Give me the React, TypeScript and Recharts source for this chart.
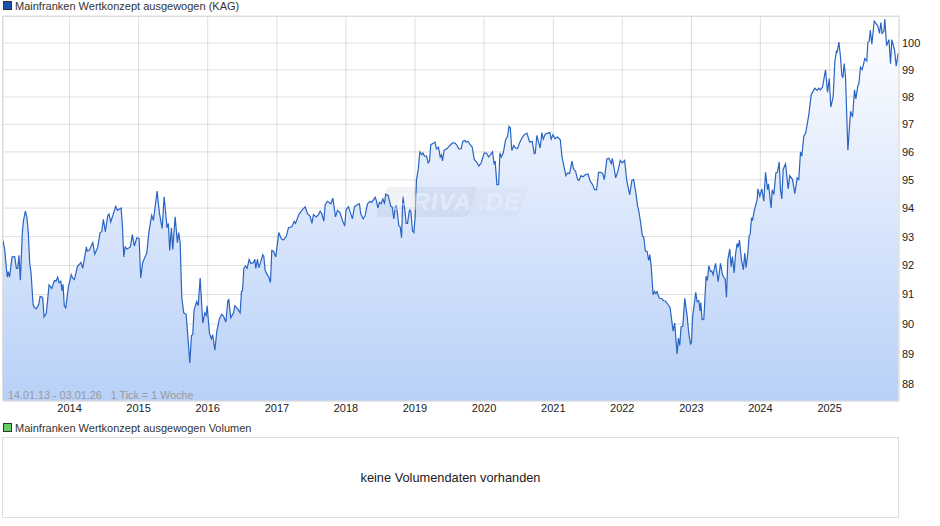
import { Area, CartesianGrid, ComposedChart, Line, XAxis, YAxis } from "recharts";

const FONT = '"Liberation Sans", Arial, sans-serif';

// weeks since 14.01.13 (1 tick = 1 week)
const weeks = [
  0, 1.3, 2.8, 3.3, 4, 5, 6.8, 8.8, 10.1, 11.1, 12.1, 13.1, 14.6, 15.4, 16.9, 18.1, 19.1, 20.2, 21.2, 22.7,
  23.7, 25.2, 27, 28, 30, 31, 32.7, 34.8, 36.8, 38.8, 40, 41.3, 42.3, 43.6, 44.6, 45.3, 46.3, 47.4, 49.4, 51.6,
  52.6, 53.9, 56.2, 58.9, 60.2, 63, 63.7, 65.2, 67.8, 69.3, 71.5, 73.3, 74.6, 75.8, 77.3, 79.1, 80.1, 81.4, 85.1, 86.4,
  89.2, 90.2, 91.2, 92.2, 93.7, 96.2, 97.7, 99.2, 101, 102.8, 104, 105.5, 108.6, 110.3, 112.3, 113.6, 116.4, 118.1, 120.2, 121.7,
  123.9, 124.9, 125.9, 127.2, 128.2, 130, 131.7, 132.7, 133.8, 135, 136.5, 138.3, 139.3, 141.1, 142.3, 143.3, 144.3, 146.3, 147.4, 148.9,
  150.9, 152.4, 153.4, 154.2, 155.9, 157.4, 158.4, 160, 161.5, 163.5, 165.2, 166.5, 168.3, 169.8, 170.5, 172, 174.1, 175.1, 177.1, 179.1,
  180.1, 180.9, 181.9, 183.1, 184.4, 185.9, 187.2, 189.2, 190.2, 190.9, 192.2, 193.2, 194.7, 196.2, 197, 198, 200, 200.8, 202, 203,
  204.3, 206, 208.3, 210.1, 211.8, 213.9, 215.6, 218.1, 219.9, 220.9, 223.4, 225.7, 228.2, 230, 232, 233.3, 234.5, 236.5, 238.3, 239.5,
  240.8, 242.3, 243.3, 245, 247.6, 249.1, 251.1, 252.6, 254.6, 256.1, 258.1, 259.1, 260.9, 263.9, 265.4, 268.5, 269.2, 270.2, 272, 273.3,
  275.3, 277.3, 278.5, 279.8, 281.1, 282.1, 283.1, 284.3, 285.6, 286.9, 288.1, 289.1, 290.9, 292.9, 293.9, 295.2, 296.2, 297.2, 299, 300,
  301, 302, 303.5, 304.5, 305.5, 307, 308, 309.3, 310.3, 311.3, 312.3, 313.6, 314.8, 316.3, 317.1, 318.3, 319.9, 321.1, 322.1, 323.1,
  324.6, 326.2, 327.4, 328.9, 330.2, 331.2, 331.9, 333.2, 335.2, 336.5, 337.7, 339.5, 341.5, 342.8, 344.3, 346, 347.3, 348.8, 349.6, 351.3,
  352.9, 354.4, 355.9, 357.9, 359.4, 361.2, 363.4, 365.2, 366.7, 368.2, 369.7, 371, 371.7, 373, 374.3, 375.3, 376.3, 377.8, 379.6, 381.1,
  382.1, 383.1, 384.3, 385.8, 387.1, 388.6, 390.1, 391.9, 393.7, 395.7, 397.7, 399.7, 401.2, 402, 403.2, 404.7, 405.7, 407, 408, 409.5,
  411.5, 413, 414, 415.3, 416.8, 418.8, 420.9, 422.1, 423.6, 425.1, 426.4, 427.9, 429.7, 430.9, 432.4, 434, 435, 436.5, 438, 440,
  441.8, 443.5, 445.3, 446.8, 448.3, 449.8, 451.3, 452.9, 454.1, 456.1, 457.6, 459.4, 460.2, 461.7, 462.7, 464.4, 466.2, 467.7, 469.5, 471,
  472.5, 473.3, 475, 476.3, 478, 479.3, 480, 481.4, 482.9, 483.9, 485.2, 486.4, 487.7, 488.5, 489.5, 491, 492, 493, 494, 495.5,
  497.5, 499, 500.3, 502.1, 503.8, 504.8, 506.1, 507.3, 509.1, 510.1, 511.1, 512.1, 513.4, 514.9, 516.7, 517.9, 519.2, 519.9, 520.9, 523.2,
  524.2, 525.5, 526.5, 527, 528, 529.3, 531, 532, 533, 534.3, 535.3, 536.3, 538.1, 539.1, 540.1, 541.9, 543.4, 544.6, 545.4, 546.4,
  547.4, 548.9, 549.9, 550.9, 552.2, 553.2, 554.4, 555.2, 556.2, 557.7, 559.2, 560.2, 561.2, 562.5, 563.5, 564.3, 565.3, 566, 567.5, 569.6,
  570.1, 571.6, 573.1, 574.6, 575.9, 577.4, 578.1, 580.1, 580.9, 582.2, 583.7, 584.9, 586.2, 587.2, 588.2, 589.2, 591, 593, 594.2, 596.3,
  598, 599.8, 601, 602.3, 603.3, 604.8, 606.3, 608.6, 610.4, 612.4, 613.1, 614.9, 616.2, 617.4, 618.9, 621.2, 622.7, 624, 625.2, 627,
  628.3, 629.5, 630, 631.3, 632.5, 633.5, 634.3, 635.3, 636.3, 638.1, 640.1, 641.6, 643.1, 644.1, 645.6, 646.4, 647.6, 648.9, 650.9, 652.4,
  653.2, 654.2, 655, 656.2, 658, 660.7, 662, 663, 664, 665.3, 666, 667.3, 669.1, 670.3, 671.3, 673.3, 674.6, 676.1,
];

const prices = [
  92.86, 92.55, 91.79, 91.6, 91.79, 91.6, 92.29, 92.31, 91.9, 91.9, 92.35, 91.49, 93.14, 93.54, 93.89, 93.66, 93.14, 92.07, 91.74, 90.67,
  90.56, 90.52, 90.67, 90.94, 90.9, 90.24, 90.36, 91.33, 91.21, 91.48, 91.46, 91.6, 91.41, 91.46, 91.13, 91.35, 90.62, 90.55, 91.27, 91.68,
  91.57, 91.51, 91.96, 92.1, 91.9, 92.64, 92.49, 92.52, 92.79, 92.39, 92.63, 93.14, 93.17, 93.6, 93.17, 93.74, 93.79, 93.51, 94.06, 93.92,
  94, 93.37, 92.29, 92.64, 92.57, 92.64, 93.07, 92.67, 92.96, 92.93, 91.57, 92.1, 92.43, 93.2, 93.74, 93.57, 94.6, 93.83, 93.28, 94.4,
  93.31, 93.46, 92.52, 93.31, 92.55, 93.69, 92.79, 93.14, 92.79, 90.91, 90.38, 90.33, 89.76, 88.7, 89.61, 89.64, 90.48, 90.76, 90.62, 91.57,
  90.03, 90.38, 90.29, 90.62, 89.7, 89.5, 89.64, 89.12, 89.76, 90.19, 90.33, 90.27, 90.07, 90.79, 90.83, 90.21, 90.38, 90.62, 90.52, 90.38,
  91.11, 91.13, 91.9, 91.98, 91.9, 92.21, 92.07, 92.1, 92.21, 91.9, 92.21, 91.92, 92.13, 92.37, 92.31, 91.82, 91.65, 91.6, 91.41, 92.52,
  92.49, 92.29, 93.14, 92.93, 92.88, 93, 93.31, 93.34, 93.53, 93.46, 93.77, 93.92, 94.04, 93.8, 93.71, 93.46, 93.77, 93.69, 93.77, 93.89,
  93.8, 93.54, 94.12, 94.24, 94.15, 94.35, 93.69, 93.92, 93.83, 93.6, 93.37, 93.94, 94.05, 93.62, 94.04, 94.15, 94.15, 93.8, 93.62, 93.71,
  94.15, 94.24, 94.2, 94.3, 94.38, 94.24, 94, 94.2, 94.15, 94.32, 94.18, 94.49, 94.45, 94.06, 94.04, 93.62, 94.04, 94.08, 93.37, 93.34,
  92.96, 94.42, 93.92, 93.46, 93.46, 93.94, 93.89, 93.2, 93.14, 93.71, 95.01, 95.37, 96, 95.9, 95.96, 95.85, 95.85, 95.61, 95.67, 96.26,
  96.3, 96.36, 96.11, 96.17, 95.82, 95.9, 95.68, 96.06, 96.11, 96.18, 96.24, 96.33, 96.32, 96.24, 96.11, 96.12, 96.38, 96.42, 96.36, 96.38,
  96.26, 96.17, 95.73, 95.63, 95.49, 95.61, 95.96, 95.96, 95.82, 95.9, 96, 95.55, 95.67, 94.83, 94.83, 95.96, 95.82, 95.96, 96.44, 96.56,
  96.92, 96.88, 96.05, 96.23, 96.14, 96.12, 96.32, 96.5, 96.62, 96.68, 96.36, 96.38, 95.94, 95.96, 96.6, 96.32, 96.14, 96.7, 96.46, 96.64,
  96.68, 96.7, 96.46, 96.62, 96.48, 96.54, 96.44, 95.85, 95.49, 95.15, 95.25, 95.23, 95.67, 95.39, 95.31, 95.01, 94.98, 95.15, 95.11, 95.19,
  95.21, 94.95, 94.83, 94.65, 94.65, 95.27, 95.27, 95.23, 95.01, 95.75, 95.77, 95.58, 95.77, 95.37, 95.07, 95.31, 95.7, 95.61, 95.7, 95.01,
  94.65, 94.47, 94.99, 95.01, 94.53, 94.06, 93.94, 93.54, 93.02, 93, 92.49, 92.49, 92.17, 92.37, 92.01, 90.99, 91.1, 91.03, 91.1, 90.88,
  90.86, 90.79, 90.78, 90.67, 90.56, 90.21, 89.76, 90.03, 89, 89.53, 89.28, 89.9, 89.92, 90.87, 90.27, 89.7, 89.33, 89.37, 90.27, 91.08,
  90.76, 90.79, 90.44, 90.73, 90.15, 90.17, 91.63, 91.48, 91.99, 91.79, 91.81, 91.68, 92.07, 91.79, 91.44, 92.07, 91.68, 91.57, 91.55, 90.91,
  92.19, 92.57, 91.96, 92.31, 91.74, 92.37, 92.76, 92.63, 92.88, 92.19, 91.85, 92.43, 91.92, 92.43, 93.02, 93.08, 93.66, 93.56, 93.94, 94.3,
  94.68, 94.42, 94.68, 94.24, 95.27, 94.65, 94.86, 94, 94.65, 94.48, 95.25, 95.27, 95.64, 94.65, 94.32, 95.37, 95.57, 94.68, 95.15, 95.01,
  94.51, 95.07, 95.01, 96, 95.85, 96.56, 96.7, 97.35, 98.08, 98.26, 98.32, 98.24, 98.32, 98.26, 98.36, 99, 98.17, 98.68, 97.63, 98.02,
  99.34, 99.72, 99.64, 100.04, 99.49, 98.8, 98.71, 99.23, 98.74, 96.06, 97.47, 97.26, 98.26, 97.93, 98.41, 98.48, 99.1, 99.01, 99.42, 99.33,
  100.03, 100.06, 100.49, 99.96, 100.83, 100.64, 100.36, 100.77, 100.36, 100.45, 100.9, 99.9, 100.13, 99.23, 100.13, 99.74, 99.14, 99.62,
];

const yearTicks = [50.3, 102.4, 154.6, 206.9, 259, 311.1, 363.3, 415.6, 467.7, 519.9, 572, 624.3];
const yearLabels = ["2014", "2015", "2016", "2017", "2018", "2019", "2020", "2021", "2022", "2023", "2024", "2025"];
const priceTicks = [88, 89, 90, 91, 92, 93, 94, 95, 96, 97, 98, 99, 100];

const chartData = weeks.map((week, i) => ({ week, price: prices[i] }));

function LegendRow({ top, color, label }: { top: number; color: string; label: string }) {
  return (
    <div style={{ position: "absolute", left: 3, top, height: 14, fontSize: 11, lineHeight: "14px", color: "#333", whiteSpace: "nowrap" }}>
      <span style={{ position: "absolute", left: 0, top: 2, width: 7, height: 7, background: color, border: "1px solid #333" }} />
      <span style={{ position: "absolute", left: 12, top: 0 }}>{label}</span>
    </div>
  );
}

export default function App() {
  return (
    <div style={{ position: "absolute", left: 0, top: 0, width: 940, height: 526, fontFamily: FONT, background: "#fff", overflow: "hidden" }}>
      <LegendRow top={-1} color="#1a52b0" label="Mainfranken Wertkonzept ausgewogen (KAG)" />

      <ComposedChart width={940} height={426} data={chartData} margin={{ top: 16, right: 0, bottom: 0, left: 3 }}>
        <defs>
          <linearGradient id="priceFill" x1="0" y1="0" x2="0" y2="1">
            <stop offset="0%" stopColor="#ffffff" />
            <stop offset="100%" stopColor="#b8d0f8" />
          </linearGradient>
        </defs>
        <Area dataKey="price" type="linear" stroke="none" fill="url(#priceFill)" fillOpacity={1} isAnimationActive={false} />
        <CartesianGrid stroke="rgba(0,0,0,0.13)" strokeWidth={1} />
        <Line dataKey="price" type="linear" stroke="#2a64c2" strokeWidth={1.2} dot={false} isAnimationActive={false} />
        <XAxis
          dataKey="week"
          type="number"
          scale="linear"
          domain={[0, 676.7]}
          ticks={yearTicks}
          interval={0}
          height={25}
          tickLine={false}
          tickSize={0}
          axisLine={{ stroke: "#ddd" }}
          tickMargin={3}
          tick={{ fontSize: 11, fill: "#222", fontFamily: FONT }}
          tickFormatter={(w: number) => yearLabels[yearTicks.indexOf(w)]}
        />
        <YAxis
          orientation="right"
          type="number"
          scale="log"
          domain={[87.44, 101.02]}
          allowDataOverflow
          ticks={priceTicks}
          interval={0}
          width={41}
          tickLine={false}
          tickSize={0}
          axisLine={{ stroke: "#ddd" }}
          tickMargin={3}
          tick={{ fontSize: 11, fill: "#222", fontFamily: FONT }}
        />
      </ComposedChart>

      {/* plot frame top and left */}
      <div style={{ position: "absolute", left: 2, top: 15.5, width: 897, height: 1, background: "#ddd" }} />
      <div style={{ position: "absolute", left: 2, top: 16, width: 1, height: 385, background: "#ddd" }} />

      {/* watermark */}
      <div style={{ position: "absolute", left: 381, top: 187, width: 92, height: 30, transform: "skewX(-20deg)", background: "rgba(90,110,150,0.09)", borderRadius: 4 }} />
      <div style={{ position: "absolute", left: 473, top: 187, width: 50, height: 30, transform: "skewX(-20deg)", background: "rgba(90,110,150,0.035)", borderRadius: 4 }} />
      <div style={{ position: "absolute", left: 394, top: 188, fontSize: 24, fontWeight: "bold", fontStyle: "italic", color: "rgba(255,255,255,0.4)", lineHeight: "28px", letterSpacing: 1 }}>
        ARIVA<span style={{ color: "rgba(255,255,255,0.3)", marginLeft: 6 }}>.DE</span>
      </div>

      <div style={{ position: "absolute", left: 8, top: 388, fontSize: 10.8, lineHeight: "14px", color: "#9a9a9a", whiteSpace: "pre" }}>
        {"14.01.13 - 03.01.26   1 Tick = 1 Woche"}
      </div>

      <LegendRow top={421} color="#66cc66" label="Mainfranken Wertkonzept ausgewogen Volumen" />

      <div style={{ position: "absolute", left: 2, top: 437, width: 895, height: 79, border: "1px solid #ddd", display: "flex", alignItems: "center", justifyContent: "center", fontSize: 12.8, color: "#222" }}>
        keine Volumendaten vorhanden
      </div>
    </div>
  );
}
